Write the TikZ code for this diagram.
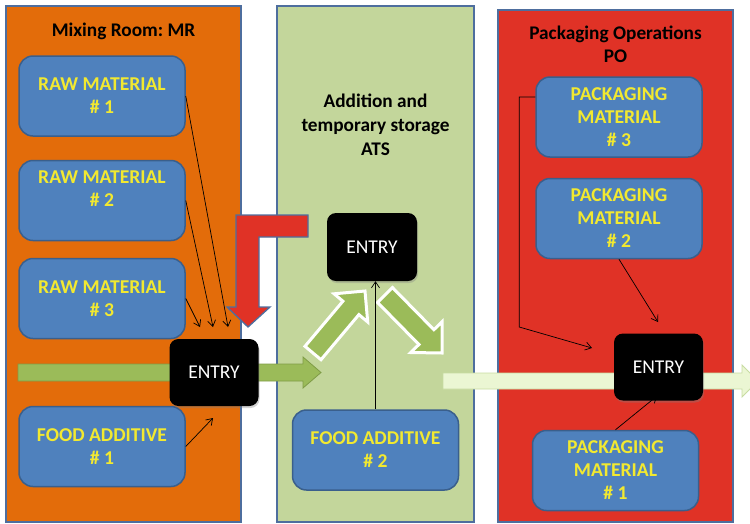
\documentclass[tikz,border=0pt]{standalone}
\usepackage{fontspec}
\setmainfont{Carlito}
\frenchspacing
\usetikzlibrary{arrows.meta,shadows,calc}
\definecolor{orangeP}{HTML}{E36C0A}
\definecolor{greenP}{HTML}{C3D69B}
\definecolor{redP}{HTML}{E03226}
\definecolor{panelB}{HTML}{4E6E9E}
\definecolor{boxF}{HTML}{4F81BD}
\definecolor{boxB}{HTML}{3A5F8C}
\definecolor{yellowT}{HTML}{F2E930}
\definecolor{arrG}{HTML}{9BBB59}
\definecolor{arrGB}{HTML}{7F9C46}
\definecolor{arrL}{HTML}{EBF6D3}
\definecolor{arrLB}{HTML}{C8DCA2}
\tikzset{
  panel/.style={draw=panelB, line width=1.2pt},
  matbox/.style={draw=boxB, fill=boxF, line width=1.5pt, rounded corners=14pt,
     minimum width=166pt, minimum height=80pt, align=center, text=yellowT,
     font=\fontsize{19.6}{23}\selectfont\bfseries, inner sep=0pt},
  entrybox/.style={fill=black, rounded corners=9pt, minimum width=89pt, minimum height=67pt,
     text=white, font=\fontsize{19.5}{22}\selectfont, inner sep=0pt,
     drop shadow={shadow xshift=1pt, shadow yshift=-2pt, opacity=0.35}},
  title/.style={align=center, font=\fontsize{19.3}{23}\selectfont\bfseries, text=black},
  thin/.style={draw=black, line width=0.7pt, -{Straight Barb[length=6pt,width=8pt]}},
  fatgreen/.style={fill=arrG, draw=white, line width=3pt, line join=miter},
}
\begin{document}
\begin{tikzpicture}[x=1pt,y=-1pt]
\useasboundingbox (0,0) rectangle (750,523);
% panels
\draw[panel, fill=orangeP] (6,6) rectangle (241,522);
\draw[panel, fill=greenP] (277,6) rectangle (474,522);
\draw[panel, fill=redP] (498,10) rectangle (733,522);
% titles
\node[title] (t1) at (123.5,31) {Mixing Room: MR};
\node[title, font=\fontsize{19.3}{24}\selectfont\bfseries] (t2) at (375.5,125) {Addition and\\temporary storage\\ATS};
\node[title] (t3) at (615.5,44.5) {Packaging Operations\\PO};
% red L arrow
\draw[fill=redP, draw=panelB, line width=1.3pt, line join=miter]
  (308,215)--(236,215)--(236,307)--(227,307)--(248,327)--(270,307)--(259,307)--(259,237)--(308,237)--cycle;
% green horizontal arrow
\draw[fill=arrG, draw=arrGB, line width=0.8pt]
  (18,364)--(303,364)--(303,357)--(321,372.5)--(303,388)--(303,381)--(18,381)--cycle;
% light green arrow
\draw[fill=arrL, draw=arrLB, line width=0.8pt]
  (443,373)--(742,373)--(742,365)--(758,381)--(742,397)--(742,389)--(443,389)--cycle;
% diagonal arrows
\draw[fatgreen] (321,359.7)--(358.9,314.6)--(367.7,322.0)--(365,291)--(334.1,293.8)--(342.9,301.2)--(305,346.3)--cycle;
\draw[fatgreen] (377.5,302.4)--(418.9,344.5)--(410.7,352.5)--(442,353)--(442.1,321.7)--(433.9,329.7)--(392.5,287.6)--cycle;
% material boxes
\node[matbox] (rm1) at (102,96) {RAW MATERIAL\\\# 1};
\node[matbox] (rm2) at (102,200.5) {RAW MATERIAL\\\# 2\\\mbox{}};
\node[matbox] (rm3) at (102,298.5) {RAW MATERIAL\\\# 3};
\node[matbox] (fa1) at (102,446.5) {FOOD ADDITIVE\\\# 1};
\node[matbox] (fa2) at (375.5,450) {FOOD ADDITIVE\\\# 2};
\node[matbox] (pm3) at (619,117) {PACKAGING\\MATERIAL\\\# 3};
\node[matbox] (pm2) at (619,218.5) {PACKAGING\\MATERIAL\\\# 2};
\node[matbox] (pm1) at (615.5,470.5) {PACKAGING\\MATERIAL\\\# 1};
% entry boxes
\node[entrybox] (e1) at (214,372.5) {ENTRY};
\node[entrybox, minimum width=90pt, minimum height=68pt] (e2) at (372,247) {ENTRY};
\node[entrybox] (e3) at (658.5,367) {ENTRY};
% connector end points
\coordinate (c1) at (228,327);
\coordinate (c2) at (213,327);
\coordinate (c3) at (200,327);
\coordinate (c4) at (213,418);
\coordinate (c5) at (592,348);
\coordinate (c6) at (658,322);
\coordinate (c7) at (657,396);
% thin connectors
\draw[thin] (rm1.east) -- (c1);
\draw[thin] (rm2.east) -- (c2);
\draw[thin] (rm3.east) -- (c3);
\draw[thin] (fa1.east) -- (c4);
\draw[thin] (fa2.north) -- (fa2.north |- e2.south);
\draw[thin] ([yshift=20pt]pm3.west) -- ++(-16,0) -- ++(0,230) -- (c5);
\draw[thin] (pm2.south) -- (c6);
\draw[thin] (pm1.north) -- (c7);
\end{tikzpicture}
\end{document}
